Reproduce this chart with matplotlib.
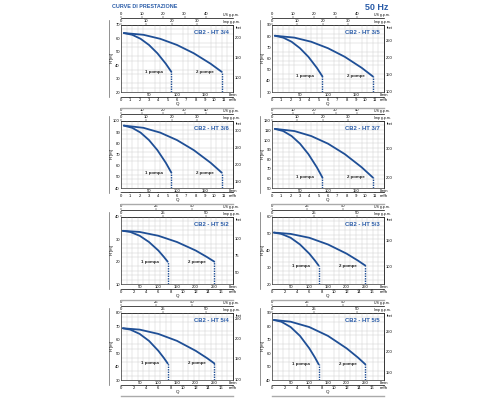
import matplotlib
matplotlib.use('Agg')
import matplotlib.pyplot as plt
from matplotlib.lines import Line2D
import numpy as np

plt.rcParams['font.family'] = ['Liberation Sans Narrow', 'Liberation Sans', 'DejaVu Sans']

BLUE = '#1f4f96'
TBLUE = '#2a5ca8'
GRID = '#cfcfcf'

models = ['CB2 - HT 3/4', 'CB2 - HT 3/5', 'CB2 - HT 3/6', 'CB2 - HT 3/7',
          'CB2 - HT 5/2', 'CB2 - HT 5/3', 'CB2 - HT 5/4', 'CB2 - HT 5/5']

# flow points (l/min) for one pump and two pumps
q1_ht3 = [5, 20, 35, 50, 65, 80, 90]
q2_ht3 = [5, 40, 70, 100, 130, 160, 180]
q1_ht5 = [5, 25, 50, 75, 100, 115, 125]
q2_ht5 = [5, 50, 100, 150, 200, 230, 250]

# head (m) read at those points
h_3_4 = [64.0, 62.7, 59.7, 55.1, 48.9, 41.1, 35.0]
h_3_5 = [80.4, 78.7, 75.0, 69.2, 61.5, 51.7, 44.0]
h_3_6 = [95.9, 93.9, 89.6, 82.9, 73.9, 62.6, 53.7]
h_3_7 = [111.8, 109.5, 104.3, 96.3, 85.4, 71.7, 61.0]
h_5_2 = [33.8, 33.3, 31.6, 28.8, 25.0, 22.1, 20.0]
h_5_3 = [50.7, 49.9, 47.6, 43.6, 38.1, 34.0, 31.0]
h_5_4 = [68.6, 67.6, 64.4, 59.2, 51.8, 46.4, 42.4]
h_5_5 = [84.8, 83.5, 79.5, 72.9, 63.6, 56.8, 51.7]
heads = [h_3_4, h_3_5, h_3_6, h_3_7, h_5_2, h_5_3, h_5_4, h_5_5]

ylims = [(20, 70), (30, 90), (40, 100), (50, 120), (10, 40), (20, 60), (30, 80), (40, 90)]
feet_ticks = [[100, 150, 200], [100, 150, 200, 250], [150, 200, 250, 300], [200, 300],
              [50, 75, 100], [100, 150], [100, 150, 200, 250], [150, 200, 250]]

lpm_ticks_ht3 = [50, 100, 150, 200]
lpm_ticks_ht5 = [50, 100, 150, 200, 250, 300]
m3h_ticks_ht3 = list(range(0, 13))
m3h_ticks_ht5 = list(range(0, 19, 2))
us_ticks_ht3 = [0, 10, 20, 30, 40]
imp_ticks_ht3 = [0, 10, 20, 30]
us_ticks_ht5 = [0, 25, 50]
imp_ticks_ht5 = [0, 25, 50]

W, H = 500, 400
cols = [(121, 233), (272, 384)]
rows = [(25, 92), (121, 188), (217, 284), (313, 380)]

fig = plt.figure(figsize=(5, 4), dpi=100)
fig.patch.set_facecolor('white')

def fx(x):
    return x / W

def fy(y):
    return 1 - y / H

FS = 3.0

fig.text(fx(112), fy(7), 'CURVE DI PRESTAZIONE', fontsize=3.9, fontweight='bold',
         color=TBLUE, ha='left', va='center')
fig.text(fx(388), fy(7), '50 Hz', fontsize=6.5, fontweight='bold',
         color=TBLUE, ha='right', va='center')

for i, name in enumerate(models):
    r, c = divmod(i, 2)
    x0, x1 = cols[c]
    y0, y1 = rows[r]
    wpx = x1 - x0
    hpx = y1 - y0
    ht3 = i < 4
    ax = fig.add_axes([fx(x0), fy(y1), wpx / W, hpx / H])
    xmax = 200 if ht3 else 300
    ymin, ymax = ylims[i]
    ax.set_xlim(0, xmax)
    ax.set_ylim(ymin, ymax)

    # fine grid
    ax.set_xticks(np.linspace(0, xmax, 21), minor=True)
    ax.set_yticks(np.linspace(ymin, ymax, 16), minor=True)
    ax.grid(which='minor', color=GRID, lw=0.35)
    ax.grid(which='major', visible=False)
    for s in ax.spines.values():
        s.set_linewidth(0.5)
        s.set_color('#333333')

    # y ticks (m)
    ax.set_yticks(np.arange(ymin, ymax + 1, 10))
    ax.tick_params(axis='y', which='major', labelsize=FS, length=0, pad=0.8)
    ax.tick_params(which='minor', length=0)

    # bottom l/min
    lt = lpm_ticks_ht3 if ht3 else lpm_ticks_ht5
    ax.set_xticks(lt)
    ax.set_xticklabels([str(v) for v in lt[:-1]] + ['l/min'])
    ax.tick_params(axis='x', which='major', labelsize=FS, length=0, pad=0.6)

    # curves
    q1 = q1_ht3 if ht3 else q1_ht5
    q2 = q2_ht3 if ht3 else q2_ht5
    h = heads[i]
    ax.plot(q1, h, color=BLUE, lw=1.3, solid_capstyle='round')
    ax.plot(q2, h, color=BLUE, lw=1.3, solid_capstyle='round')
    ax.vlines([q1[-1], q2[-1]], ymin, h[-1], colors=BLUE, linestyles=(0, (1, 0.8)), lw=1.0)
    ax.annotate('1 pompa', (q1[-1], h[-1]), xytext=(-6, 0), textcoords='offset points',
                ha='right', va='center', fontsize=3.2, fontweight='bold', color='#222222')
    ax.annotate('2 pompe', (q2[-1], h[-1]), xytext=(-6, 0), textcoords='offset points',
                ha='right', va='center', fontsize=3.2, fontweight='bold', color='#222222')

    ax.text(1 - 4 / wpx, 1 - 8 / hpx, name, transform=ax.transAxes,
            ha='right', va='center', fontsize=4.2, fontweight='bold', color=TBLUE)

    # right feet axis
    sy = ax.secondary_yaxis('right', functions=(lambda m: m / 0.3048, lambda f: f * 0.3048))
    sy.set_yticks(feet_ticks[i])
    sy.tick_params(labelsize=FS, length=0, pad=1.2)
    sy.spines['right'].set_linewidth(0.5)
    ax.text(1 + 2 / wpx, 1 - 1 / hpx, 'feet', transform=ax.transAxes, fontsize=FS * 0.85,
            ha='left', va='top')

    # top Imp g.p.m. on top spine
    simp = ax.secondary_xaxis('top', functions=(lambda q: q / 4.546, lambda g: g * 4.546))
    simp.set_xticks(imp_ticks_ht3 if ht3 else imp_ticks_ht5)
    simp.tick_params(labelsize=FS, length=1.2, width=0.3, pad=0.3)
    simp.spines['top'].set_linewidth(0.5)
    ax.text(1 - 10 / wpx, 1 + 1.5 / hpx, 'Imp g.p.m.', transform=ax.transAxes,
            fontsize=FS * 0.85, ha='left', va='bottom')
    # US g.p.m. line above
    sus = ax.secondary_xaxis(1 + 7 / hpx, functions=(lambda q: q / 3.785, lambda g: g * 3.785))
    sus.set_xticks(us_ticks_ht3 if ht3 else us_ticks_ht5)
    sus.tick_params(labelsize=FS, length=1.2, width=0.3, pad=0.3)
    sus.spines['top'].set_linewidth(0.5)
    ax.text(1 - 10 / wpx, 1 + 8 / hpx, 'US g.p.m.', transform=ax.transAxes,
            fontsize=FS * 0.85, ha='left', va='bottom')

    # m3/h axis below
    mt = m3h_ticks_ht3 if ht3 else m3h_ticks_ht5
    sm = ax.secondary_xaxis(-4.5 / hpx, functions=(lambda q: q * 0.06, lambda m: m / 0.06))
    sm.set_xticks(mt)
    sm.set_xticklabels([str(v) for v in mt[:-1]] + ['m³/h'])
    sm.tick_params(labelsize=FS, length=1.0, width=0.3, pad=0.3)
    sm.spines['bottom'].set_linewidth(0.5)

    # Q label + separator, H label + left line
    xm = (x0 + x1) / 2
    fig.text(fx(xm), fy(y1 + 12.5), 'Q', fontsize=FS * 1.05, ha='center', va='center')
    fig.add_artist(Line2D([fx(x0), fx(x1)], [fy(y1 + 16), fy(y1 + 16)], color='#aaaaaa', lw=1.0))
    fig.text(fx(x0 - 9), fy((y0 + y1) / 2), 'H [m]', fontsize=FS, rotation=90,
             ha='center', va='center')
    fig.add_artist(Line2D([fx(x0 - 12), fx(x0 - 12)], [fy(y0 - 5), fy(y1 + 5)],
                          color='#666666', lw=0.5))

fig.savefig('out.png', dpi=100, facecolor='white')
